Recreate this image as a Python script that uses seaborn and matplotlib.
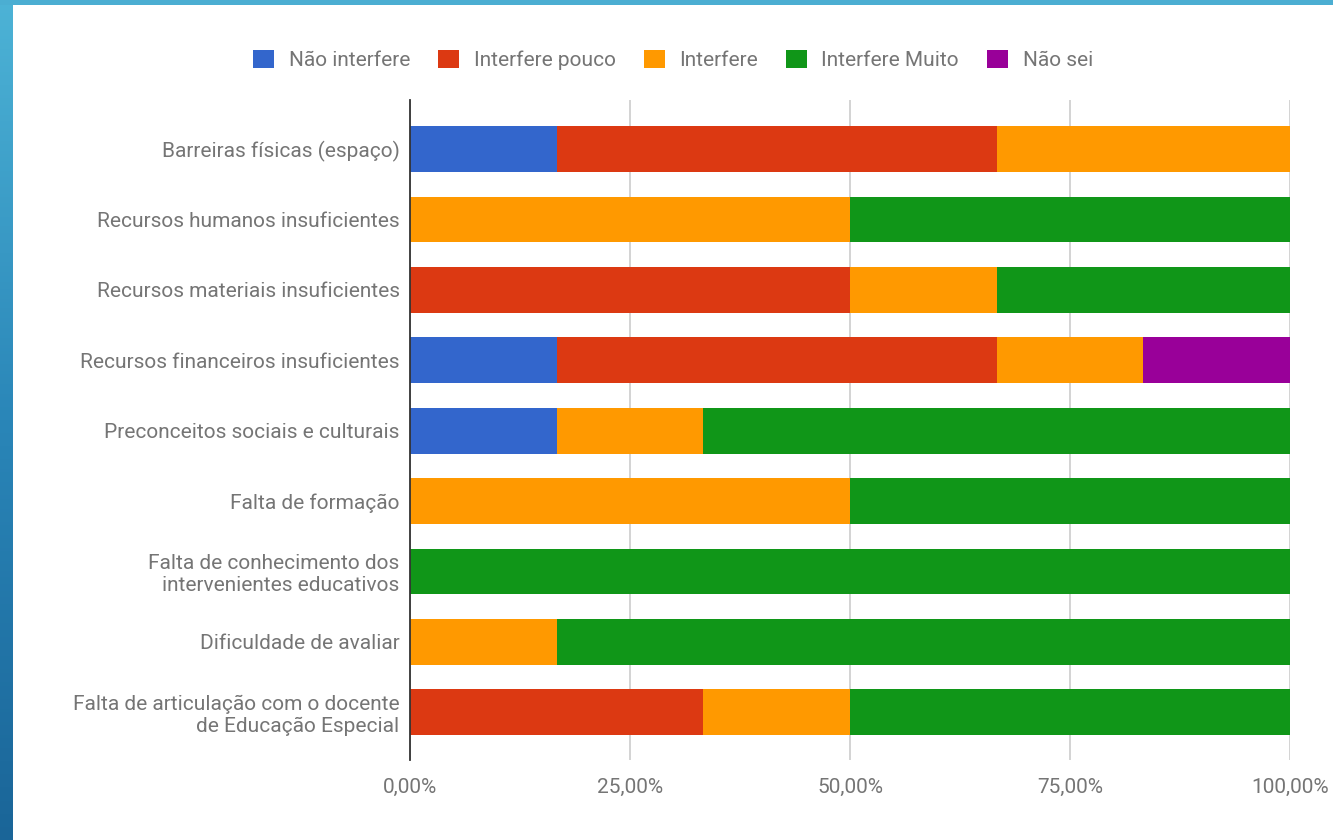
import numpy as np
import pandas as pd
import matplotlib
matplotlib.use("Agg")
import matplotlib.pyplot as plt
from matplotlib.colors import LinearSegmentedColormap
from matplotlib.patches import FancyBboxPatch
from matplotlib.ticker import FuncFormatter
import seaborn as sns

# Factors that interfere with inclusion, share of answers per level (%)
categories = [
    "Barreiras físicas (espaço)",
    "Recursos humanos insuficientes",
    "Recursos materiais insuficientes",
    "Recursos financeiros insuficientes",
    "Preconceitos sociais e culturais",
    "Falta de formação",
    "Falta de conhecimento dos\nintervenientes educativos",
    "Dificuldade de avaliar",
    "Falta de articulação com o docente\nde Educação Especial",
]
series_names = ["Não interfere", "Interfere pouco", "Interfere", "Interfere Muito", "Não sei"]
nao_interfere   = [16.67, 0.0, 0.0, 16.67, 16.67, 0.0, 0.0, 0.0, 0.0]
interfere_pouco = [50.0, 0.0, 50.0, 50.0, 0.0, 0.0, 0.0, 0.0, 33.33]
interfere       = [33.33, 50.0, 16.67, 16.67, 16.67, 50.0, 0.0, 16.67, 16.67]
interfere_muito = [0.0, 50.0, 33.33, 0.0, 66.66, 50.0, 100.0, 83.33, 50.0]
nao_sei         = [0.0, 0.0, 0.0, 16.66, 0.0, 0.0, 0.0, 0.0, 0.0]
ticks = [0, 25, 50, 75, 100]

colors = ["#3366CC", "#DC3912", "#FF9900", "#109618", "#990099"]
text_gray = "#757575"

sns.set_theme(style="white")
plt.rcParams["font.family"] = ["Roboto", "DejaVu Sans"]

df = pd.DataFrame(
    {
        "categoria": categories,
        series_names[0]: nao_interfere,
        series_names[1]: interfere_pouco,
        series_names[2]: interfere,
        series_names[3]: interfere_muito,
        series_names[4]: nao_sei,
    }
)
cum = df[series_names].cumsum(axis=1)
cum["categoria"] = df["categoria"]

fig = plt.figure(figsize=(13.33, 8.4), dpi=100)
fig.patch.set_facecolor("white")

# Slide frame: gradient strip on the left, thin band on top
cmap = LinearSegmentedColormap.from_list("frame", ["#4DB3D6", "#2A86B8", "#1A6598"])
ax_l = fig.add_axes([0, 0, 13 / 1333, 1])
ax_l.imshow(np.linspace(0, 1, 256).reshape(-1, 1), aspect="auto", cmap=cmap)
ax_l.axis("off")
ax_t = fig.add_axes([0, 1 - 5 / 840, 1, 5 / 840])
ax_t.set_facecolor("#4BAED2")
ax_t.set_xticks([]); ax_t.set_yticks([])
for s in ax_t.spines.values():
    s.set_visible(False)

ax = fig.add_axes([410 / 1333, 80 / 840, 880 / 1333, 660 / 840])

# Stacked bars: draw cumulative totals from the last series back to the first
for name, col in reversed(list(zip(series_names, colors))):
    sns.barplot(data=cum, x=name, y="categoria", orient="h", color=col,
                width=0.65, saturation=1, ax=ax, linewidth=0)

ax.set_xlim(0, 100)
ax.set_ylim(len(categories) - 1 + 0.68, -0.70)
ax.set_xticks(ticks)
ax.xaxis.set_major_formatter(FuncFormatter(lambda v, p: f"{v:.2f}".replace(".", ",") + "%"))
ax.set_xlabel("")
ax.set_ylabel("")
ax.grid(axis="x", color="#CCCCCC", linewidth=1.2)
ax.set_axisbelow(True)
for s in ["top", "right", "bottom"]:
    ax.spines[s].set_visible(False)
ax.spines["left"].set_color("#333333")
ax.spines["left"].set_linewidth(1.3)
ax.spines["left"].set_zorder(5)
ax.tick_params(axis="x", length=0, pad=13, labelsize=15, labelcolor=text_gray)
ax.tick_params(axis="y", length=0, pad=7.5, labelsize=15, labelcolor=text_gray)

# Legend above the plot
handles = [FancyBboxPatch((0, 0), 1, 1, boxstyle="round,pad=0,rounding_size=0.15",
                          facecolor=c, edgecolor="none") for c in colors]
leg = fig.legend(handles, series_names, loc="center", bbox_to_anchor=(673 / 1333, 1 - 60 / 840),
                 ncol=5, frameon=False, fontsize=15, handlelength=1.0, handleheight=1.0,
                 handletextpad=0.7, columnspacing=1.35, labelcolor=text_gray)

fig.savefig("out.png", dpi=100, facecolor="white")
